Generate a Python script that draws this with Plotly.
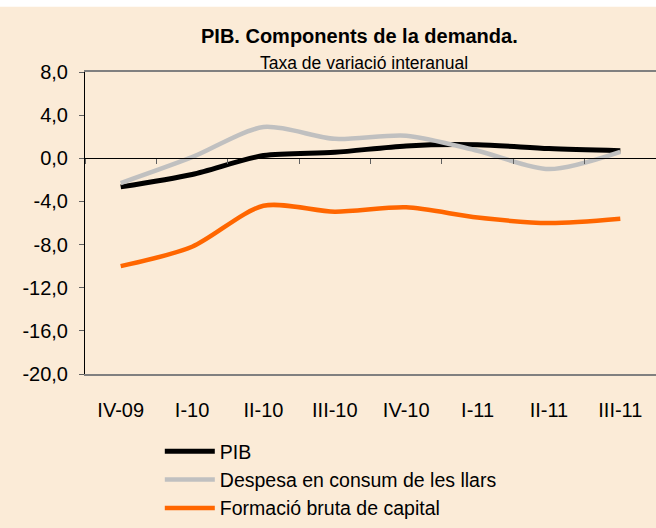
import plotly.graph_objects as go

categories = ["IV-09", "I-10", "II-10", "III-10", "IV-10", "I-11", "II-11", "III-11"]
pib = [-2.65, -1.5, 0.25, 0.55, 1.15, 1.25, 0.9, 0.7]
consum = [-2.3, 0.1, 2.9, 1.8, 2.1, 0.7, -1.0, 0.6]
capital = [-10.0, -8.2, -4.4, -4.95, -4.55, -5.5, -6.0, -5.6]
y_ticks = [8, 4, 0, -4, -8, -12, -16, -20]
y_labels = ["8,0", "4,0", "0,0", "-4,0", "-8,0", "-12,0", "-16,0", "-20,0"]

BG = "#FBEBD7"
FONT = "Liberation Sans, Arial, sans-serif"
PH = 306  # plot height in px (for paper-coordinate placement of titles)

fig = go.Figure()
series = [("PIB", pib, "#000000", 5),
          ("Despesa en consum de les llars", consum, "#C0C0C0", 4.5),
          ("Formació bruta de capital", capital, "#FF6600", 4.5)]
for i, (name, vals, col, w) in enumerate(series):
    fig.add_trace(go.Scatter(x=categories, y=vals, name=name, mode="lines",
                             line=dict(color=col, width=w, shape="spline", smoothing=0.8),
                             legendgroup=f"g{i}"))
# invisible trace carrying the tick axis at zero
fig.add_trace(go.Scatter(x=categories, y=[0]*len(categories), xaxis="x2", yaxis="y",
                         mode="markers", marker=dict(opacity=0), showlegend=False,
                         hoverinfo="skip"))

fig.update_layout(
    width=656, height=528,
    paper_bgcolor=BG, plot_bgcolor=BG,
    margin=dict(l=85, r=0, t=72, b=150),
    font=dict(family=FONT, color="#000000", size=20),
    showlegend=True,
    legend=dict(x=0.131, y=-59/PH, xanchor="left", yanchor="top",
                bgcolor="rgba(0,0,0,0)", font=dict(size=19.5, family=FONT),
                tracegroupgap=0, itemwidth=50),
    xaxis=dict(type="category", categoryorder="array", categoryarray=categories,
               range=[-0.5, 7.5], showgrid=False, zeroline=False,
               showline=True, linecolor="#808080", linewidth=1.5, mirror=True,
               ticks="outside", ticklen=17, tickcolor="rgba(0,0,0,0)",
               tickfont=dict(size=20, family=FONT)),
    xaxis2=dict(type="category", categoryorder="array", categoryarray=categories,
                range=[-0.5, 7.5], overlaying="x", anchor="free",
                position=20/28, showgrid=False, zeroline=False,
                showline=True, linecolor="#000000", linewidth=1,
                ticks="outside", ticklen=5, tickcolor="#606060",
                tickson="boundaries", showticklabels=False),
    yaxis=dict(range=[-20, 8], tickvals=y_ticks, ticktext=y_labels,
               showgrid=False, zeroline=False, showline=True,
               linecolor="#000000", linewidth=1,
               ticks="outside", ticklen=5, tickcolor="#606060",
               ticklabelstandoff=7,
               tickfont=dict(size=20, family=FONT)),
    annotations=[
        dict(text="<b>PIB. Components de la demanda.</b>", xref="paper", yref="paper",
             x=0.48, y=1 + 36/PH, xanchor="center", yanchor="middle",
             showarrow=False, font=dict(size=20, family=FONT)),
        dict(text="Taxa de variació interanual", xref="paper", yref="paper",
             x=0.489, y=1 + 9/PH, xanchor="center", yanchor="middle",
             showarrow=False, font=dict(size=17.5, family=FONT)),
    ],
    shapes=[
        dict(type="rect", xref="paper", yref="paper", x0=-0.2, x1=1.05,
             y0=1 + 66/PH, y1=1 + 80/PH, fillcolor="#FFFFFF", line=dict(width=0),
             layer="above"),
    ],
)

fig.write_html("out.html", config={"displayModeBar": False},
               post_script="document.body.style.margin='0';")
